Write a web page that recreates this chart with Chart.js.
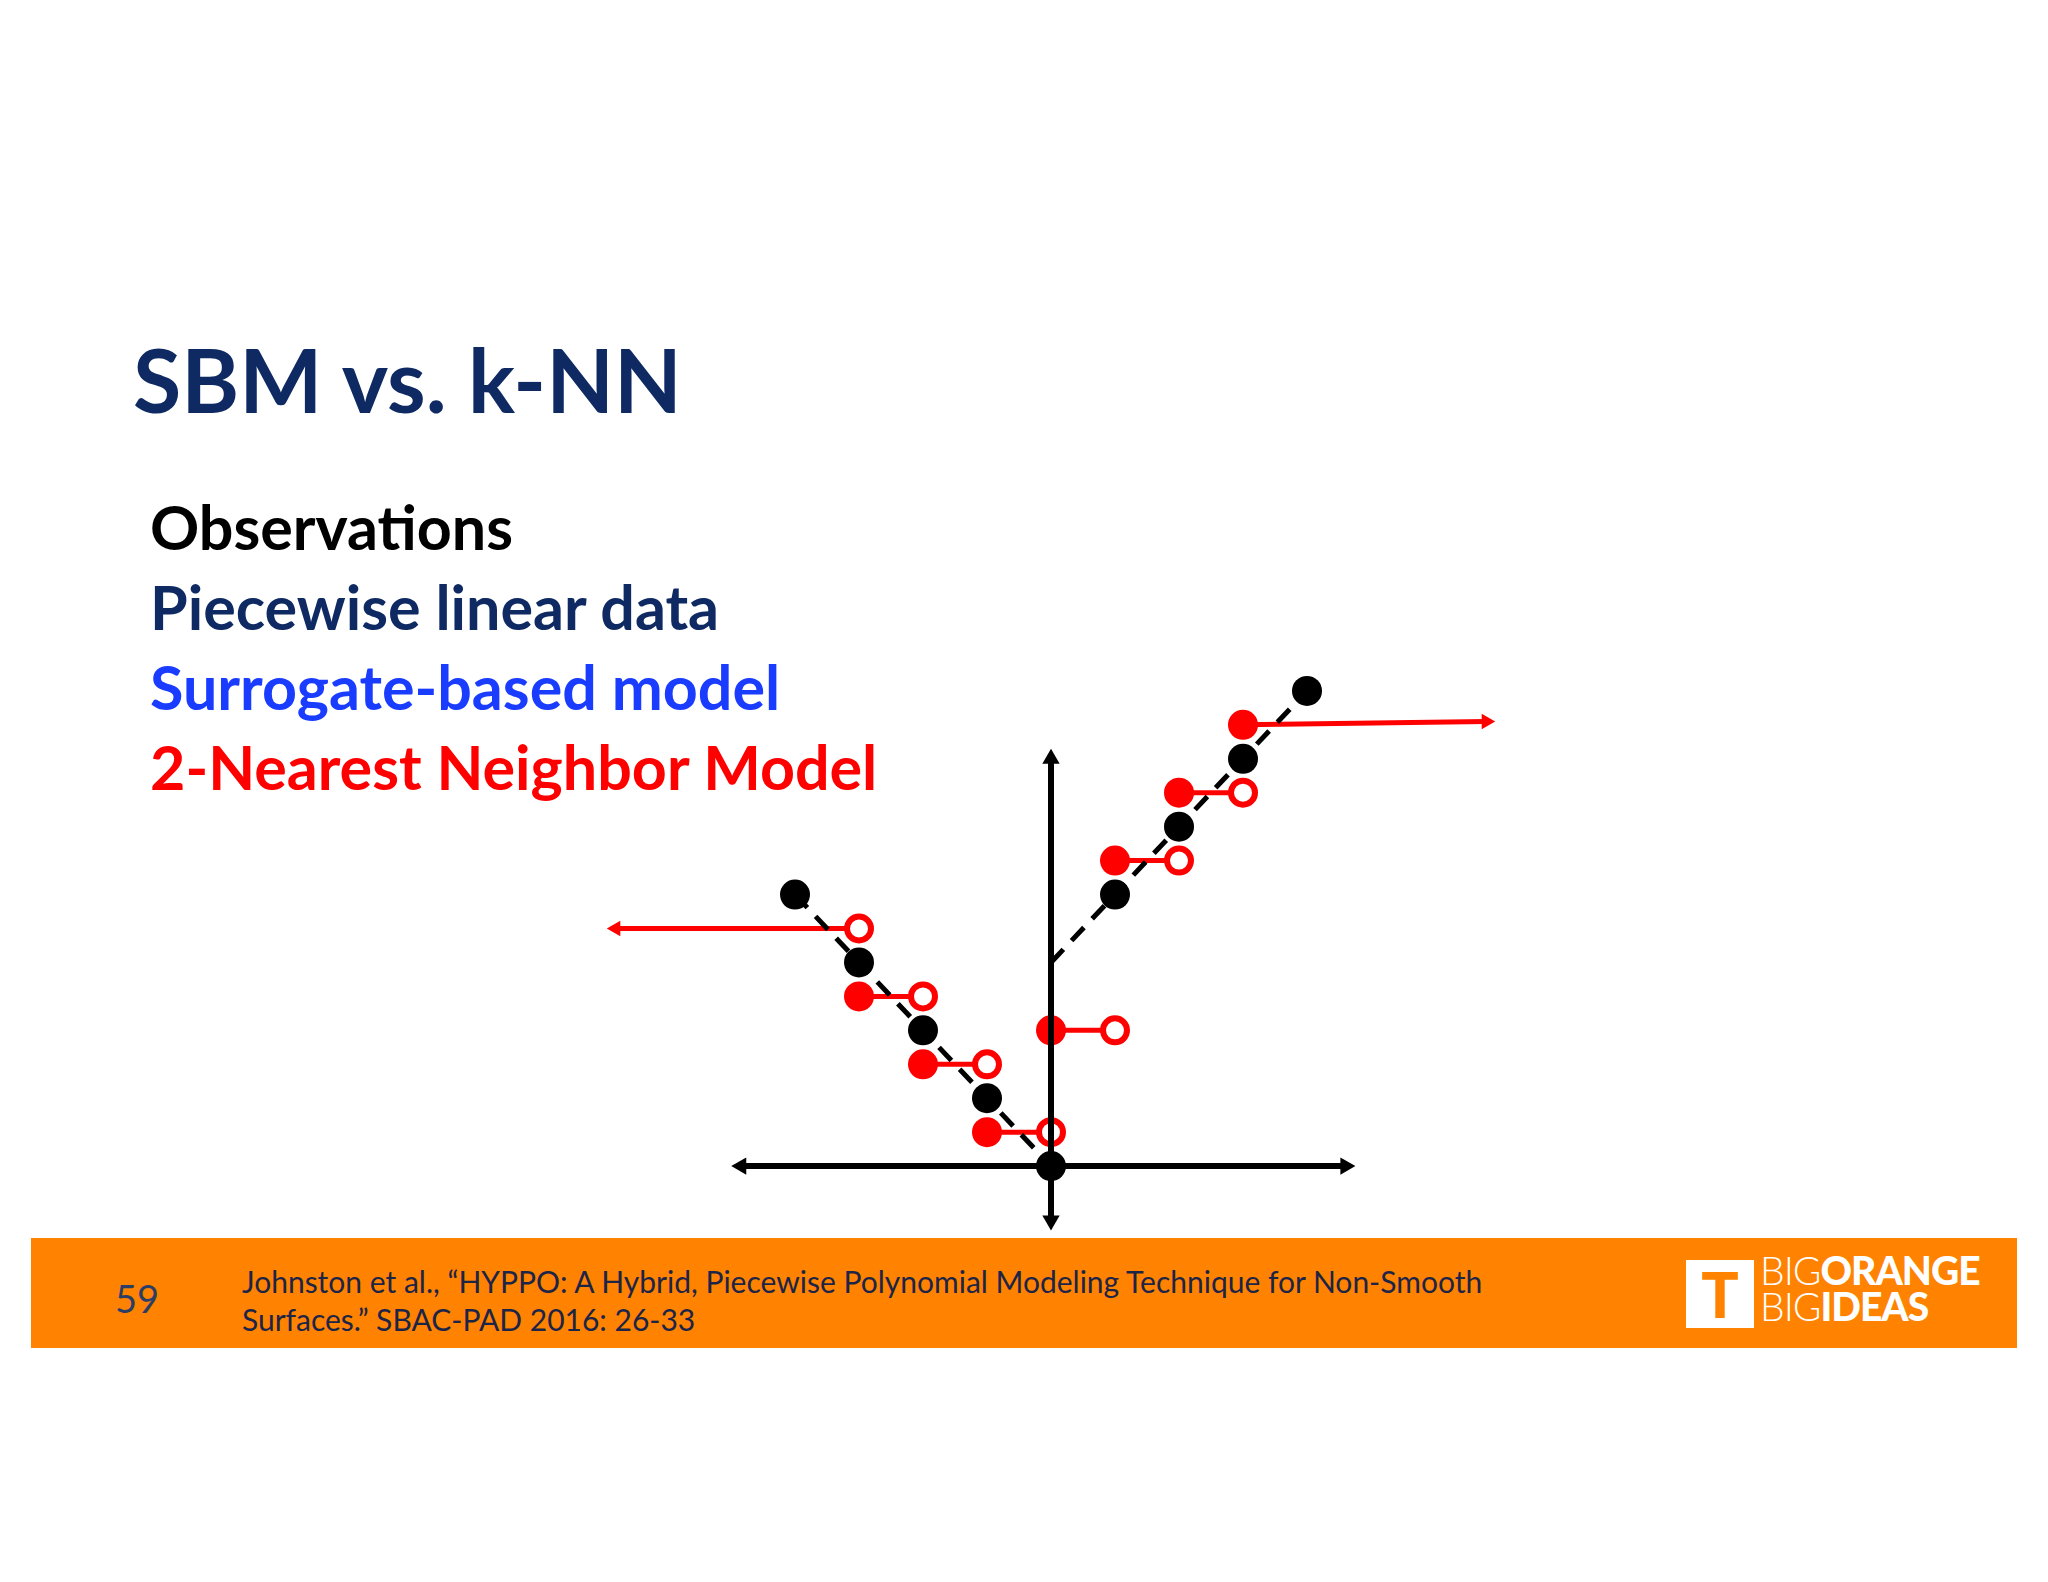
<!DOCTYPE html>
<html><head><meta charset="utf-8">
<script src="https://cdn.jsdelivr.net/npm/chart.js@4"></script>
<style>
body{margin:0;width:2048px;height:1582px;background:#fff;position:relative;overflow:hidden;font-family:Lato,"Open Sans",sans-serif}
#c{position:absolute;left:0;top:0}
.t{position:absolute;white-space:nowrap;font-weight:bold}
</style></head><body>
<canvas id="c" width="2048" height="1582"></canvas>
<div class="t" style="left:133px;top:326px;font-size:88px;color:#0f2a63">SBM vs. k-NN</div>
<div class="t" style="left:150px;top:490px;font-size:61px;color:#000">Observations</div>
<div class="t" style="left:150px;top:570px;font-size:61px;color:#0f2a63">Piecewise linear data</div>
<div class="t" style="left:150px;top:650px;font-size:61px;color:#1a3cff">Surrogate-based model</div>
<div class="t" style="left:150px;top:730px;font-size:61px;color:#f00">2-Nearest Neighbor Model</div>
<div style="position:absolute;left:31px;top:1238px;width:1986px;height:110px;background:#ff8200"></div>
<div class="t" style="left:115px;top:1275px;font-size:38px;font-weight:normal;color:#2c3e66">59</div>
<div class="t" style="left:242px;top:1262px;font-size:30px;font-weight:normal;color:#1c2447;line-height:38px">Johnston et al., “HYPPO: A Hybrid, Piecewise Polynomial Modeling Technique for Non-Smooth<br>Surfaces.” SBAC-PAD 2016: 26-33</div>
<div style="position:absolute;left:1686px;top:1260px;width:68px;height:68px;background:#fff;color:#ff8200;font:900 62px Lato;text-align:center;line-height:68px">T</div>
<div class="t" style="left:1760px;top:1252px;font-size:39px;color:#fff;line-height:36px;letter-spacing:-1px"><span style="font-weight:300">BIG</span><span style="font-weight:900">ORANGE</span><br><span style="font-weight:300">BIG</span><span style="font-weight:900">IDEAS</span></div>
<script>
const sbmX=[-4,-3,-2,-1,0,1,2,3,4];
const sbmY=[4,3,2,1,0,4,5,6,7];
const sbmLineLeftX=[-4,0], sbmLineLeftY=[4,0];
const sbmLineRightX=[0,4], sbmLineRightY=[3,7];
const knnX=[-3,-2,-1,0,1,2];
const knnY=[2.5,1.5,0.5,2,4.5,5.5];
const knnLeftTail={x:[-6.8,-3],y:[3.5,3.5]};
const knnRightTail={x:[3,6.8],y:[6.5,6.55]};
const xAxisX=[-4.84,4.6], yAxisY=[-0.8,6.0];
const red='#ff0000';
const pts=(xs,ys)=>xs.map((x,i)=>({x,y:ys[i]}));
const ds=[];
ds.push({data:pts(xAxisX,[0,0]),showLine:true,borderColor:'#000',borderWidth:6,pointStyle:'triangle',pointRadius:10,pointRotation:[-90,90],backgroundColor:'#000',pointBorderWidth:0});
ds.push({data:pts([0,0],yAxisY),showLine:true,borderColor:'#000',borderWidth:6,pointStyle:'triangle',pointRadius:10,pointRotation:[180,0],backgroundColor:'#000',pointBorderWidth:0});
ds.push({data:pts(sbmLineLeftX,sbmLineLeftY),showLine:true,borderColor:'#000',borderWidth:5,borderDash:[18,12],pointRadius:0});
ds.push({data:pts(sbmLineRightX,sbmLineRightY),showLine:true,borderColor:'#000',borderWidth:5,borderDash:[18,12],pointRadius:0});
ds.push({data:pts(sbmX,sbmY),pointRadius:15,backgroundColor:'#000',borderColor:'#000',pointBorderWidth:0});
knnX.forEach((x,i)=>{
  ds.push({data:pts([x,x+1],[knnY[i],knnY[i]]),showLine:true,borderColor:red,borderWidth:5,pointRadius:[15,12],pointBorderWidth:[0,6],backgroundColor:[red,'#fff'],pointBorderColor:red});
});
ds.push({data:pts(knnLeftTail.x,knnLeftTail.y),showLine:true,borderColor:red,borderWidth:5,pointStyle:['triangle','circle'],pointRotation:[-90,0],pointRadius:[9,12],pointBorderWidth:[0,6],backgroundColor:[red,'#fff'],pointBorderColor:red});
ds.push({data:pts(knnRightTail.x,knnRightTail.y),showLine:true,borderColor:red,borderWidth:5,pointStyle:['circle','triangle'],pointRotation:[0,90],pointRadius:[15,9],pointBorderWidth:0,backgroundColor:red});
new Chart(document.getElementById('c'),{type:'scatter',data:{datasets:ds},
options:{responsive:false,devicePixelRatio:1,animation:false,
layout:{padding:{left:603,right:549,top:623,bottom:348}},
plugins:{legend:{display:false},tooltip:{enabled:false}},
scales:{x:{type:'linear',min:-7,max:7,display:false},y:{type:'linear',min:-1,max:8,display:false}}}});
</script></body></html>
